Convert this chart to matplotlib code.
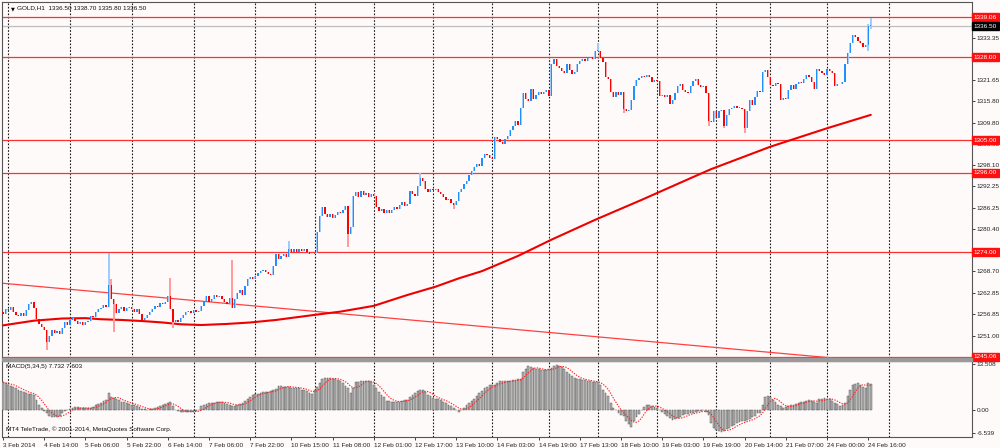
import numpy as np
import pandas as pd
import matplotlib
matplotlib.use("Agg")
import matplotlib.pyplot as plt

# hourly closes (GOLD, H1, 3 Feb .. 24 Feb 2014)
first_open = 1257.6
closes = [
    1257.0, 1258.2, 1258.0, 1259.0, 1257.6, 1256.8, 1256.5, 1257.2, 1256.4, 1258.0, 1259.6, 1260.4,
    1258.6, 1255.5, 1254.2, 1253.4, 1252.6, 1249.2, 1251.0, 1252.4, 1251.6, 1252.2, 1251.4, 1253.0,
    1254.6, 1254.0, 1255.2, 1255.8, 1255.0, 1254.2, 1254.8, 1254.0, 1254.6, 1255.0, 1256.4, 1256.0,
    1257.4, 1258.2, 1258.6, 1259.4, 1259.0, 1265.0, 1261.0, 1259.6, 1257.2, 1258.4, 1258.8, 1257.8,
    1258.6, 1259.0, 1258.2, 1257.6, 1258.4, 1257.0, 1255.4, 1255.8, 1256.8, 1257.6, 1258.4, 1259.2,
    1259.0, 1260.0, 1259.6, 1260.4, 1262.0, 1258.2, 1254.6, 1255.2, 1254.6, 1255.8, 1256.6, 1257.4,
    1257.8, 1257.2, 1258.0, 1257.4, 1257.8, 1259.2, 1260.6, 1261.8, 1260.4, 1261.2, 1262.2, 1261.6,
    1261.8, 1261.0, 1260.2, 1259.8, 1261.4, 1258.6, 1261.2, 1262.8, 1263.6, 1262.2, 1264.8, 1266.6,
    1267.2, 1266.6, 1267.4, 1268.4, 1268.8, 1269.2, 1268.6, 1268.0, 1267.6, 1270.2, 1273.4, 1272.2,
    1273.0, 1273.4, 1272.6, 1275.0, 1274.0, 1274.8, 1274.2, 1275.0, 1274.4, 1274.8, 1274.2, 1273.6,
    1273.4, 1273.8, 1279.5, 1284.0, 1286.5, 1284.5, 1283.8, 1284.6, 1283.6, 1284.4, 1285.2, 1284.8,
    1285.6, 1286.8, 1279.0, 1281.0, 1289.6, 1290.6, 1289.4, 1291.0, 1289.8, 1290.4, 1289.2, 1290.2,
    1289.6, 1286.6, 1285.4, 1286.0, 1285.0, 1285.8, 1284.8, 1285.6, 1286.6, 1286.0, 1287.0, 1287.8,
    1286.8, 1287.4, 1291.0, 1290.2, 1289.6, 1292.2, 1294.6, 1293.8, 1291.4, 1290.8, 1291.6, 1291.2,
    1291.6, 1290.6, 1290.0, 1289.2, 1288.4, 1288.8, 1287.6, 1287.0, 1288.2, 1290.6, 1291.4, 1293.0,
    1293.8, 1295.4, 1296.6, 1297.6, 1298.4, 1298.0, 1300.2, 1301.2, 1300.8, 1300.2, 1299.8, 1306.0,
    1305.2, 1304.6, 1304.0, 1305.4, 1306.2, 1307.8, 1309.0, 1310.2, 1309.2, 1314.0, 1318.0, 1316.4,
    1315.8, 1319.2, 1316.4, 1317.6, 1318.4, 1317.8, 1318.2, 1318.8, 1317.2, 1326.0, 1327.4, 1325.4,
    1325.0, 1324.0, 1323.6, 1326.0, 1324.4, 1323.4, 1323.8, 1326.0, 1326.8, 1327.4, 1326.8, 1327.6,
    1328.0, 1327.4, 1329.6, 1329.8, 1327.6, 1326.6, 1322.6, 1322.0, 1318.2, 1317.0, 1318.4, 1317.6,
    1318.2, 1313.6, 1313.0, 1313.4, 1316.0, 1320.0, 1321.6, 1322.2, 1322.8, 1322.4, 1323.0, 1322.6,
    1321.0, 1321.6, 1321.4, 1317.2, 1317.6, 1317.0, 1317.4, 1315.0, 1316.2, 1318.0, 1320.0, 1320.4,
    1319.0, 1318.4, 1318.0, 1320.0, 1321.4, 1321.8, 1320.2, 1319.6, 1320.0, 1318.0, 1310.4, 1310.0,
    1313.0, 1311.0, 1313.0, 1313.4, 1309.0, 1312.0, 1313.6, 1313.8, 1314.4, 1313.8, 1314.0, 1313.6,
    1308.4, 1313.0, 1316.0, 1314.6, 1317.0, 1318.6, 1318.4, 1323.8, 1324.4, 1322.4, 1320.2, 1320.0,
    1320.8, 1320.4, 1316.2, 1316.8, 1316.4, 1319.0, 1320.2, 1319.2, 1320.6, 1321.0, 1320.8, 1322.0,
    1323.0, 1322.4, 1321.0, 1319.2, 1324.8, 1324.2, 1323.6, 1323.0, 1324.6, 1324.2, 1323.6, 1320.0,
    1320.6, 1320.4, 1321.2, 1326.0, 1329.0, 1332.0, 1334.2, 1333.4, 1332.4, 1331.8, 1330.8, 1331.2,
    1336.5, 1336.5,
]
# visible long wicks (bar index -> price)
wick_high = {41: 1273.8, 42: 1266.5, 65: 1266.9, 89: 1271.8, 111: 1277.0, 162: 1296.0,
             231: 1331.8, 336: 1337.0, 337: 1338.7}
wick_low = {17: 1247.0, 43: 1252.0, 66: 1253.0, 134: 1275.6, 175: 1286.0, 241: 1312.4,
            274: 1309.0, 280: 1308.5, 288: 1306.9, 336: 1329.8, 337: 1335.8}

# MACD(5,34,5) main line per bar
macd = [
    8.2, 7.9, 7.5, 7.2, 7.0, 6.6, 6.1, 5.7, 5.3, 5.1, 4.9, 4.8,
    4.6, 3.1, 1.7, 0.7, -0.2, -0.8, -1.6, -1.8, -2.0, -1.9, -1.5, -0.8,
    -0.1, 0.2, 0.4, 0.7, 0.9, 0.9, 0.7, 0.6, 0.6, 0.7, 0.7, 1.1,
    1.6, 2.0, 2.3, 2.7, 3.1, 5.1, 3.9, 3.6, 3.3, 3.0, 2.6, 2.4,
    2.2, 2.0, 1.7, 1.5, 1.2, 0.9, 0.5, 0.3, 0.2, 0.3, 0.4, 0.8,
    1.0, 1.2, 1.6, 2.0, 2.3, 2.6, 1.2, 0.0, -0.2, -0.3, -0.3, -0.3,
    -0.3, -0.3, -0.3, -0.2, 0.0, 1.2, 1.6, 2.0, 2.1, 2.2, 2.3, 2.5,
    2.6, 2.4, 2.2, 2.0, 1.7, 1.4, 1.2, 1.7, 2.0, 2.2, 2.8, 3.3,
    4.0, 4.6, 4.8, 4.9, 5.1, 5.3, 5.4, 5.5, 5.6, 5.9, 6.3, 7.3,
    7.1, 7.0, 6.9, 6.8, 6.7, 6.7, 6.7, 6.6, 6.1, 5.9, 5.6, 5.2,
    4.9, 6.1, 7.0, 8.0, 9.3, 9.4, 9.5, 9.4, 9.3, 9.2, 9.0, 8.5,
    8.0, 7.2, 6.5, 5.1, 6.5, 8.2, 8.4, 8.5, 8.6, 8.7, 8.5, 8.2,
    7.4, 6.5, 5.5, 4.6, 3.8, 2.9, 2.7, 2.6, 2.6, 2.6, 2.6, 2.8,
    3.0, 3.1, 3.8, 4.6, 5.1, 5.6, 5.9, 6.1, 5.3, 4.6, 4.1, 3.6,
    3.4, 3.3, 3.0, 2.6, 2.2, 1.7, 1.2, 0.7, 0.2, -0.3, 0.2, 0.7,
    1.5, 2.2, 2.8, 3.3, 4.2, 5.1, 5.8, 6.5, 7.0, 7.5, 7.5, 7.5,
    8.0, 8.5, 8.5, 8.5, 8.5, 8.6, 8.8, 9.0, 9.1, 9.2, 11.4, 12.2,
    12.9, 12.6, 12.4, 12.2, 12.0, 11.9, 11.8, 11.7, 12.1, 12.4, 12.9, 13.4,
    13.1, 12.7, 12.0, 11.4, 10.7, 10.0, 9.6, 9.2, 9.1, 9.0, 8.8, 8.6,
    8.5, 8.4, 8.3, 8.2, 7.5, 6.1, 5.0, 4.1, 2.2, 0.8, 0.0, -0.8,
    -1.2, -1.6, -3.2, -4.0, -4.9, -3.2, -2.0, -1.0, 0.2, 0.9, 1.7, 1.6,
    1.4, 1.0, 0.7, 0.2, -0.3, -1.0, -1.6, -2.2, -2.7, -2.5, -2.2, -1.8,
    -1.3, -1.1, -1.0, -0.8, -0.6, -0.4, -0.1, -0.1, 0.0, -0.5, -1.3, -3.7,
    -5.2, -5.6, -5.9, -6.2, -6.0, -5.5, -5.0, -4.5, -4.1, -3.7, -3.4, -3.2,
    -3.2, -2.8, -2.5, -2.0, -1.6, -0.8, -0.8, 1.7, 3.9, 4.3, 4.0, 3.1,
    2.4, 1.7, 1.2, 0.7, 1.0, 1.4, 1.5, 1.7, 2.0, 2.2, 2.4, 2.6,
    2.8, 3.1, 2.9, 2.6, 2.2, 3.3, 3.4, 3.6, 3.5, 3.3, 2.8, 2.2,
    1.8, 1.4, 1.6, 2.3, 4.1, 5.9, 7.5, 7.7, 8.0, 7.5, 7.0, 6.7,
    7.9, 7.73,
]

# slow moving average, read at a few bars
ma_bars = [0, 12, 23, 32, 38, 46, 54, 62, 69, 77, 87, 96, 106, 121, 131, 144, 157,
           168, 177, 186, 200, 213, 230, 248, 267, 275, 298, 320, 337]
ma_vals = [1253.8, 1255.1, 1255.7, 1255.8, 1255.5, 1255.3, 1255.0, 1254.6, 1254.1,
           1253.9, 1254.2, 1254.6, 1255.3, 1256.7, 1257.6, 1259.2, 1262.2, 1264.5,
           1266.8, 1268.8, 1273.0, 1277.5, 1283.0, 1288.5, 1294.5, 1297.0, 1303.2,
           1308.3, 1312.0]

trend_bars = [-1, 325]
trend_vals = [1265.5, 1244.6]

levels = [1339.06, 1328.00, 1305.00, 1296.00, 1274.00, 1245.06]
bid = 1336.50
price_ticks = [1333.35, 1321.65, 1315.80, 1309.80, 1303.95, 1298.10, 1292.25,
               1286.25, 1280.40, 1274.55, 1268.70, 1262.85, 1256.85, 1251.00]
macd_ticks = [13.508, 0.0, -6.539]
macd_tick_labels = ["13.508", "0.00", "-6.539"]
time_labels = ["3 Feb 2014", "4 Feb 14:00", "5 Feb 06:00", "5 Feb 22:00", "6 Feb 14:00",
               "7 Feb 06:00", "7 Feb 22:00", "10 Feb 15:00", "11 Feb 08:00", "12 Feb 01:00",
               "12 Feb 17:00", "13 Feb 10:00", "14 Feb 03:00", "14 Feb 19:00", "17 Feb 13:00",
               "18 Feb 10:00", "19 Feb 03:00", "19 Feb 19:00", "20 Feb 14:00", "21 Feb 07:00",
               "24 Feb 00:00", "24 Feb 16:00"]
day_grid = [2, 26, 50, 74, 98, 121, 144, 167, 190, 212, 231, 254, 277, 298, 320, 344]

assert len(closes) == len(macd)

BG = "#FFFAFA"
BULL, BEAR = "#1E90FF", "#FF0000"
BULL_W, BEAR_W = "#9CCBFF", "#FF9A9A"
FONT = "Liberation Sans"
FS = 4.6

fig = plt.figure(figsize=(10, 4.48), dpi=100, facecolor=BG)
W, H = 1000.0, 448.0
ax = fig.add_axes([2 / W, 1 - 358 / H, 970 / W, 356 / H], facecolor=BG)
ax2 = fig.add_axes([2 / W, 1 - 437 / H, 970 / W, 76 / H], facecolor=BG)
fig.patches.append(plt.Rectangle((2 / W, 1 - 361 / H), 970 / W, 3 / H,
                                 transform=fig.transFigure, color="#9A9A9A", zorder=0))

n = len(closes)
x = np.arange(n)
c = np.array(closes)
o = np.r_[first_open, c[:-1]]
hi = np.maximum(o, c)
lo = np.minimum(o, c)
for k, v in wick_high.items():
    hi[k] = v
for k, v in wick_low.items():
    lo[k] = v
up = c >= o
dn = ~up

# grid, levels and lines
for g in day_grid:
    for a in (ax, ax2):
        a.axvline(g, color="#1A1A1A", lw=0.8, ls=(0, (1.5, 1.5)), zorder=1)
for lv in levels:
    ax.axhline(lv, color="#FF3030", lw=0.9, zorder=2)
ax.axhline(bid, color="#BDBDBD", lw=0.9, zorder=2)
ax.plot(trend_bars, trend_vals, color="#FF4040", lw=0.9, zorder=2)
ax.plot(ma_bars, ma_vals, color="#EE0000", lw=1.5, zorder=3, solid_capstyle="round",
        solid_joinstyle="round")

# candles: light wick column behind a narrow saturated body
ax.vlines(x[up], lo[up], hi[up], color=BULL_W, lw=1.4, zorder=4)
ax.vlines(x[dn], lo[dn], hi[dn], color=BEAR_W, lw=1.4, zorder=4)
ax.bar(x[up], np.maximum(c - o, 0.25)[up], bottom=o[up], width=0.5, color=BULL, lw=0, zorder=5)
ax.bar(x[dn], np.maximum(o - c, 0.25)[dn], bottom=c[dn], width=0.5, color=BEAR, lw=0, zorder=5)

xlim = (-0.39, 376.3)
ax.set_xlim(*xlim)
ax.set_ylim(1244.78, 1343.21)
ax.yaxis.tick_right()
ax.set_yticks(price_ticks)
# labels hidden under a level box are left blank
hidden = {1274.55}
ax.set_yticklabels(["" if t in hidden else f"{t:.2f}" for t in price_ticks],
                   fontsize=FS, family=FONT)
ax.set_xticks([])
ax.tick_params(axis="y", length=2, width=0.6, pad=1.5, colors="#222222")

for lv in levels:
    ax.text(1.002, lv, f"{lv:.2f}", transform=ax.get_yaxis_transform(), fontsize=FS,
            family=FONT, color="white", va="center", ha="left", clip_on=False, zorder=10,
            bbox=dict(boxstyle="square,pad=0.25", fc="#FF1010", ec="#FF1010"))
ax.text(1.002, bid, f"{bid:.2f}", transform=ax.get_yaxis_transform(), fontsize=FS,
        family=FONT, color="white", va="center", ha="left", clip_on=False, zorder=10,
        bbox=dict(boxstyle="square,pad=0.25", fc="#000000", ec="#000000"))

ax.text(0.011, 0.989, "\u25bc", transform=ax.transAxes, fontsize=3.6, va="top", ha="center")
ax.text(0.015, 0.992, "GOLD,H1  1336.50 1338.70 1335.80 1336.50", transform=ax.transAxes,
        fontsize=FS, family=FONT, va="top", ha="left", color="#111111")

# MACD panel
sig = pd.Series(macd).rolling(5, min_periods=1).mean()
ax2.bar(x, macd, width=0.72, color="#B4B4B4", edgecolor="#4A4A4A", lw=0.3, zorder=3)
ax2.plot(x, sig, color="#FF2020", lw=0.8, ls=(0, (1.2, 1.2)), zorder=4)
ax2.set_xlim(*xlim)
ax2.set_ylim(-7.75, 14.47)
ax2.yaxis.tick_right()
ax2.set_yticks(macd_ticks)
ax2.set_yticklabels(macd_tick_labels, fontsize=FS, family=FONT)
ax2.tick_params(axis="y", length=2, width=0.6, pad=1.5, colors="#222222")
ax2.set_xticks(np.arange(len(time_labels)) * 16)
ax2.set_xticklabels(time_labels, fontsize=FS, family=FONT, ha="left")
ax2.tick_params(axis="x", length=2.5, width=0.6, pad=1.5, colors="#222222")
ax2.text(0.004, 0.96, "MACD(5,34,5) 7.732 7.603", transform=ax2.transAxes,
         fontsize=FS, family=FONT, va="top", ha="left", color="#111111")
ax2.text(0.004, 0.06, "MT4 TeleTrade, \u00a9 2001-2014, MetaQuotes Software Corp.",
         transform=ax2.transAxes, fontsize=FS, family=FONT, va="bottom", ha="left",
         color="#111111")

for a in (ax, ax2):
    for s in a.spines.values():
        s.set_color("#555555")
        s.set_linewidth(0.8)

fig.savefig("out.png", dpi=100, facecolor=BG)
